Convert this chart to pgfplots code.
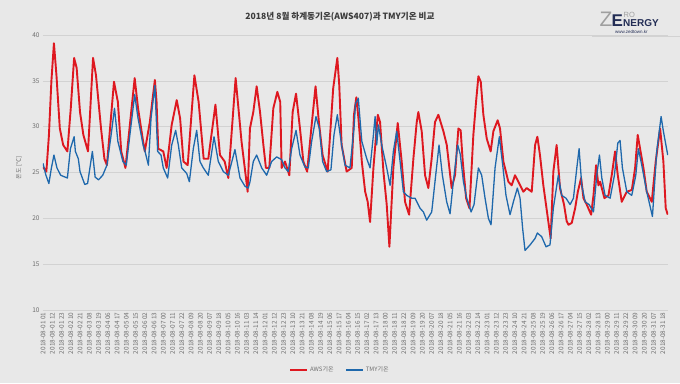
\documentclass[border=0pt]{standalone}
\usepackage{fontspec}
\setmainfont{Noto Sans CJK KR}
\newfontfamily\logofont{Liberation Sans}
\usepackage{pgfplots}
\pgfplotsset{compat=1.18}
\definecolor{bg}{RGB}{232,232,232}
\definecolor{awsred}{RGB}{222,24,32}
\definecolor{tmyblue}{RGB}{30,104,172}
\definecolor{navy}{RGB}{35,45,85}
\definecolor{txt}{RGB}{110,110,110}
\begin{document}
\begin{tikzpicture}
\fill[bg] (0,0) rectangle (680pt,383pt);
\useasboundingbox (0,0) rectangle (680pt,383pt);
\node[font=\bfseries\fontsize{8.6}{8.6}\selectfont, text={rgb,255:red,60;green,60;blue,60}] at (340pt,366pt) {2018년 8월 하계동기온(AWS407)과 TMY기온 비교};
% logo
\node[font=\logofont\fontsize{21}{21}\selectfont, text=gray!75, inner sep=0, anchor=base west] at (599.5pt,356pt) {Z};
\node[font=\logofont\bfseries\fontsize{17}{17}\selectfont, text=navy, inner sep=0, anchor=base west] at (611.5pt,356pt) {E};
\node[font=\logofont\fontsize{7.5}{7.5}\selectfont, text=gray!75, inner sep=0, anchor=base west] at (623.5pt,365.8pt) {RO};
\node[font=\logofont\bfseries\fontsize{10}{10}\selectfont, text=navy, inner sep=0, anchor=base west] at (623pt,356pt) {NERGY};
\node[font=\logofont\fontsize{4.5}{4.5}\selectfont, text=navy, inner sep=0, anchor=base west] at (615pt,349.8pt) {www.zedtown.kr};
\draw[gray!35, line width=0.4pt] (592pt,346.5pt) -- (680pt,346.5pt);
\node[rotate=90, font=\fontsize{6}{6}\selectfont, text=txt] at (19pt,215pt) {온도 [℃]};
\begin{axis}[
  at={(43pt,73pt)}, anchor=south west,
  scale only axis, width=625pt, height=275pt,
  xmin=1, xmax=744, ymin=10, ymax=40,
  axis line style={draw=none},
  major tick length=0pt, minor tick length=0pt,
  ytick={10,15,...,40},
  minor ytick={11,12,13,14,16,17,18,19,21,22,23,24,26,27,28,29,31,32,33,34,36,37,38,39},
  ymajorgrids, yminorgrids,
  major grid style={color=gray!35, line width=0.6pt},
  minor grid style={color=gray!18, line width=0.4pt},
  /pgf/number format/assume math mode=true,
  yticklabel style={font=\fontsize{6.5}{6.5}\selectfont, text=txt},
  xtick={1,12,...,738},
  xticklabels={2018-08-01 01,2018-08-01 12,2018-08-01 23,2018-08-02 10,2018-08-02 21,2018-08-03 08,2018-08-03 19,2018-08-04 06,2018-08-04 17,2018-08-05 04,2018-08-05 15,2018-08-06 02,2018-08-06 13,2018-08-07 00,2018-08-07 11,2018-08-07 22,2018-08-08 09,2018-08-08 20,2018-08-09 07,2018-08-09 18,2018-08-10 05,2018-08-10 16,2018-08-11 03,2018-08-11 14,2018-08-12 01,2018-08-12 12,2018-08-12 23,2018-08-13 10,2018-08-13 21,2018-08-14 08,2018-08-14 19,2018-08-15 06,2018-08-15 17,2018-08-16 04,2018-08-16 15,2018-08-17 02,2018-08-17 13,2018-08-18 00,2018-08-18 11,2018-08-18 22,2018-08-19 09,2018-08-19 20,2018-08-20 07,2018-08-20 18,2018-08-21 05,2018-08-21 16,2018-08-22 03,2018-08-22 14,2018-08-23 01,2018-08-23 12,2018-08-23 23,2018-08-24 10,2018-08-24 21,2018-08-25 08,2018-08-25 19,2018-08-26 06,2018-08-26 17,2018-08-27 04,2018-08-27 15,2018-08-28 02,2018-08-28 13,2018-08-29 00,2018-08-29 11,2018-08-29 22,2018-08-30 09,2018-08-30 20,2018-08-31 07,2018-08-31 18},
  xticklabel style={rotate=90, anchor=east, font=\fontsize{6.4}{6.4}\selectfont, text=txt, inner sep=2.5pt},
  legend columns=2,
  legend style={at={(0.475,-0.218)}, anchor=center, draw=none, fill=none,
    font=\fontsize{6}{6}\selectfont, text=txt,
    /tikz/every even column/.append style={column sep=10pt}},
  legend image code/.code={\draw[#1] (0pt,0pt) -- (17pt,0pt);},
]
\addplot[awsred, line width=1.9pt, line join=round] coordinates {
(1,25.6)(5,25.1)(8,29.0)(11,35.0)(14,39.1)(17,35.6)(19,32.7)(21,29.8)(25,28.0)(30,27.3)(34,32.0)(38,37.5)(41,36.4)(45,31.6)(49,29.1)(54.5,27.3)(60.5,37.5)(64,35.6)(70,29.8)(74,26.5)(77,25.8)(85.4,34.9)(90,32.7)(94,27.3)(99,25.5)(110,35.3)(114,32.0)(120,28.4)(122,27.3)(128,30.5)(134,35.1)(136,32.7)(138,27.6)(144,27.3)(148,25.5)(154,30.2)(160,32.9)(164,30.9)(168,26.2)(173,25.8)(181,35.6)(186,32.7)(192,26.5)(197.5,26.5)(206,32.4)(211.4,26.9)(217,26.2)(221.3,24.4)(230,35.3)(237,28.4)(244.3,22.9)(247,29.8)(251,31.6)(255,34.4)(259,31.6)(263,28.0)(266,25.5)(270,25.5)(274.8,32.0)(279.6,33.8)(283,32.7)(284.7,25.5)(288.7,26.2)(293.8,24.7)(297.8,31.6)(301.8,33.6)(306.5,29.8)(310.5,26.2)(315,25.1)(320.4,30.2)(325,34.4)(329,30.5)(333.4,26.9)(339.4,25.1)(346,34.2)(350.9,37.5)(353.2,34.5)(356,28.0)(362,25.1)(368,25.5)(370.7,31.3)(373.5,33.2)(376,30.9)(380,26.2)(384,22.9)(387,21.8)(389.8,19.6)(393.8,25.5)(399,31.3)(401.7,30.5)(405.7,25.1)(409.6,21.5)(412.8,16.9)(417.5,25.5)(422.7,30.4)(427.4,26.2)(431.4,21.8)(436.2,20.4)(441.3,26.5)(445.3,30.5)(447.2,31.6)(451.2,29.5)(455.2,24.7)(459.1,23.3)(463,26.5)(467,30.5)(471,31.3)(477,29.5)(481,28.0)(486.8,23.3)(490.8,24.7)(494.8,29.8)(497.5,29.6)(500,26.2)(504,22.2)(508,21.1)(512.6,29.1)(515.8,32.7)(518.6,35.5)(521.4,34.9)(524.5,31.3)(528.5,28.7)(533.2,27.3)(536.4,29.5)(541.5,30.7)(544.3,29.8)(548.3,26.2)(554.2,24.0)(558.2,23.6)(562.1,24.7)(566.1,24.0)(572,22.9)(576,23.3)(582,22.9)(586,28.0)(588.7,28.9)(591.8,26.9)(595.8,23.6)(600.6,20.4)(604.5,17.8)(607.7,25.1)(611.6,28.0)(615.6,23.3)(620.4,21.5)(623.5,19.7)(625.7,19.3)(629.6,19.5)(633.6,21.1)(636.8,22.9)(640.7,24.4)(643.5,22.2)(647.4,21.5)(652.6,20.4)(655.4,22.5)(658.5,25.8)(661.3,23.6)(663.3,24.0)(668.4,22.2)(673.2,22.5)(677.1,24.7)(681.1,27.3)(684.3,24.7)(689,21.8)(695,22.9)(701,23.1)(704.9,25.5)(708,29.1)(710.8,27.6)(714.8,25.5)(718.7,22.9)(724.7,21.8)(729.4,26.2)(734.6,29.8)(738.5,26.2)(741.3,21.1)(743.7,20.4)
};
\addlegendentry{AWS기온}
\addplot[tmyblue, line width=1.3pt, line join=round] coordinates {
(1,26.0)(4.5,24.7)(8,23.8)(11,25.5)(14,26.9)(17.6,25.5)(22,24.7)(30,24.4)(33.6,27.6)(38,28.9)(39.5,27.3)(43,26.5)(45,25.1)(50.6,23.7)(54,23.8)(59.7,27.3)(63,24.5)(67,24.2)(72,24.7)(77,25.8)(82,29.1)(86,32.0)(90,28.4)(96,26.2)(100,25.8)(110,33.5)(114,30.9)(120,28.0)(122.3,27.3)(126.3,25.8)(129.4,30.9)(134,34.5)(137.3,27.3)(141.3,26.9)(144,25.5)(149.2,24.4)(154,28.0)(158.7,29.6)(161.9,28.0)(165.9,25.5)(171.8,24.9)(175,24.0)(179.7,27.6)(183.7,29.6)(187.6,26.2)(191.6,25.5)(197.5,24.7)(204.3,28.9)(209.4,26.2)(215.4,25.1)(221.3,24.7)(229.2,27.5)(235.2,24.4)(241.1,23.5)(245,23.3)(247.1,24.0)(251,26.2)(255,26.9)(261,25.5)(266.9,24.7)(272.8,26.2)(278.8,26.7)(284.7,26.4)(288.7,25.5)(292.6,25.1)(296.6,27.6)(301.8,29.6)(306.5,26.9)(312.4,25.6)(316.4,25.5)(320.4,28.4)(325.5,31.1)(329.5,29.8)(333.4,26.2)(338.2,25.1)(343.3,25.3)(346.9,29.1)(350.9,31.3)(356,28.0)(360,25.8)(365.9,25.5)(370.7,29.8)(372.5,32.5)(375.8,33.1)(380,28.4)(385.9,26.5)(389.8,25.5)(393.8,29.1)(395.8,31.1)(397.7,28.0)(399.7,30.2)(403.7,28.0)(409.6,25.5)(413.6,23.6)(417.5,27.3)(421.5,29.5)(425.5,26.2)(429.4,22.9)(433.4,22.5)(439.3,22.2)(443.3,22.2)(449.2,21.1)(453.2,20.7)(457.1,19.8)(463.1,20.7)(467,24.0)(471.8,28.0)(475.8,24.7)(480.9,21.8)(484.9,20.5)(488.8,24.0)(494,28.0)(497,27.0)(500.8,24.0)(504.7,22.2)(509.9,20.7)(513.4,21.5)(518.6,25.5)(522.5,24.7)(526.5,22.2)(530.5,20.0)(533.6,19.3)(538.4,25.5)(543.5,28.9)(547.5,25.8)(551.4,22.5)(556.2,20.4)(560.2,21.8)(564.9,23.3)(568.1,22.2)(571.2,18.9)(574,16.5)(580,17.1)(585.9,17.8)(588.7,18.4)(593.8,18.0)(599,16.9)(603.7,17.1)(607.7,21.1)(613.6,24.7)(617.6,22.5)(622.7,22.2)(627.6,21.5)(631.6,22.2)(635.6,25.5)(638.3,27.6)(641.5,23.6)(645.5,21.8)(650.2,21.5)(655.4,20.7)(659.3,24.7)(662.5,26.9)(665.3,24.4)(669.2,22.5)(675.2,22.2)(680.3,24.7)(684.3,28.2)(687,28.5)(689.8,25.5)(695,22.9)(700.9,22.5)(705.7,24.7)(708.8,27.6)(712.8,25.8)(718.7,22.9)(725.5,20.2)(730.6,27.3)(735.8,31.1)(738.5,29.5)(743.7,26.9)
};
\addlegendentry{TMY기온}
\end{axis}
\end{tikzpicture}
\end{document}
